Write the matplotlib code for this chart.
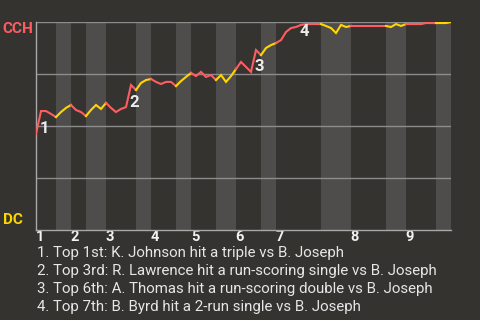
import matplotlib
matplotlib.use('Agg')
import matplotlib.pyplot as plt
from matplotlib.transforms import offset_copy

plt.rcParams['font.family'] = ['Roboto', 'DejaVu Sans']

# win probability for CCH (%) after each plate appearance
win_prob = [46.2, 57.2, 57.2, 55.8, 54.3, 56.7, 58.7, 60.1, 57.7, 56.7,
            54.8, 57.7, 60.1, 58.2, 61.1, 58.7, 56.7, 58.2, 59.1, 69.7,
            67.3, 70.7, 72.1, 72.6, 71.2, 70.2, 71.2, 71.2, 69.2, 71.6,
            73.6, 75.5, 74.0, 76.0, 73.6, 74.5, 72.1, 74.5, 71.2, 74.0,
            77.4, 80.8, 78.4, 76.0, 86.5, 84.1, 87.5, 88.9, 89.9, 91.3,
            95.2, 97.1, 97.6, 98.6, 99.0, 99.0, 99.0, 99.0, 98.1, 97.1,
            94.7, 98.6, 97.6, 98.1, 98.1, 98.1, 98.1, 98.1, 98.1, 98.1,
            98.1, 97.6, 99.0, 98.1, 99.0, 99.0, 99.0, 99.0, 99.5, 99.5,
            99.5, 99.5, 99.5, 100.0]

# event index where each half inning ends (top 1st, bottom 1st, ...)
half_bounds = [0, 4, 7, 10, 14, 20, 23, 28, 31, 36, 40, 45, 48, 57, 63, 70, 74, 80, 83]
innings = ['1', '2', '3', '4', '5', '6', '7', '8', '9']

key_events = [0, 18, 43, 52]
key_labels = ['1', '2', '3', '4']
key_texts = [
    '1. Top 1st: K. Johnson hit a triple vs B. Joseph',
    '2. Top 3rd: R. Lawrence hit a run-scoring single vs B. Joseph',
    '3. Top 6th: A. Thomas hit a run-scoring double vs B. Joseph',
    '4. Top 7th: B. Byrd hit a 2-run single vs B. Joseph',
]

bg = '#353330'
stripe = '#4e4d4b'
red = '#ff5c61'
yellow = '#ffd600'

fig = plt.figure(figsize=(4.8, 3.2), dpi=100, facecolor=bg)
ax = fig.add_axes([36/480, 1 - 230/320, 415/480, 208/320])
ax.set_facecolor(bg)
ax.set_xlim(0, 83)
ax.set_ylim(0, 100)

for k in range(len(half_bounds) - 1):
    a, b = half_bounds[k], half_bounds[k + 1]
    if k % 2 == 1:
        ax.axvspan(a, b, color=stripe, lw=0, zorder=0)
    xs = list(range(a, b + 1))
    ax.plot(xs, win_prob[a:b + 1], color=red if k % 2 == 0 else yellow,
            lw=1.5, zorder=3, solid_joinstyle='miter')

for v in [25, 50, 75, 100]:
    ax.axhline(v, color='#8c8c8c', lw=1, zorder=1)

for s in ['top', 'right']:
    ax.spines[s].set_visible(False)
for s in ['left', 'bottom']:
    ax.spines[s].set_color('#a8a8a8')
    ax.spines[s].set_linewidth(1)

ax.set_yticks([])
ax.set_xticks([half_bounds[2 * i] + 0.8 for i in range(9)])
ax.set_xticklabels(innings, color='#f2f2f2', fontsize=10.5, fontweight='bold')
ax.tick_params(axis='x', length=0, pad=0)

ax.text(-0.08, 0.965, 'CCH', transform=ax.transAxes, color=red,
        fontsize=11, fontweight='bold', ha='left', va='center')
ax.text(-0.08, 0.05, 'DC', transform=ax.transAxes, color=yellow,
        fontsize=11, fontweight='bold', ha='left', va='center')

for idx, lab in zip(key_events, key_labels):
    dy = -5 if win_prob[idx] > 95 else 5
    tr = offset_copy(ax.transData, fig=fig, x=8, y=dy, units='dots')
    ax.text(idx, win_prob[idx], lab, transform=tr, color='#ececec',
            fontsize=12, fontweight='bold', ha='center', va='center', zorder=4)

for j, t in enumerate(key_texts):
    fig.text(37/480, 1 - (253 + 18*j)/320, t, color='#e6e6e6',
             fontsize=10.8, ha='left', va='center')

fig.savefig('out.png', dpi=100, facecolor=bg)
